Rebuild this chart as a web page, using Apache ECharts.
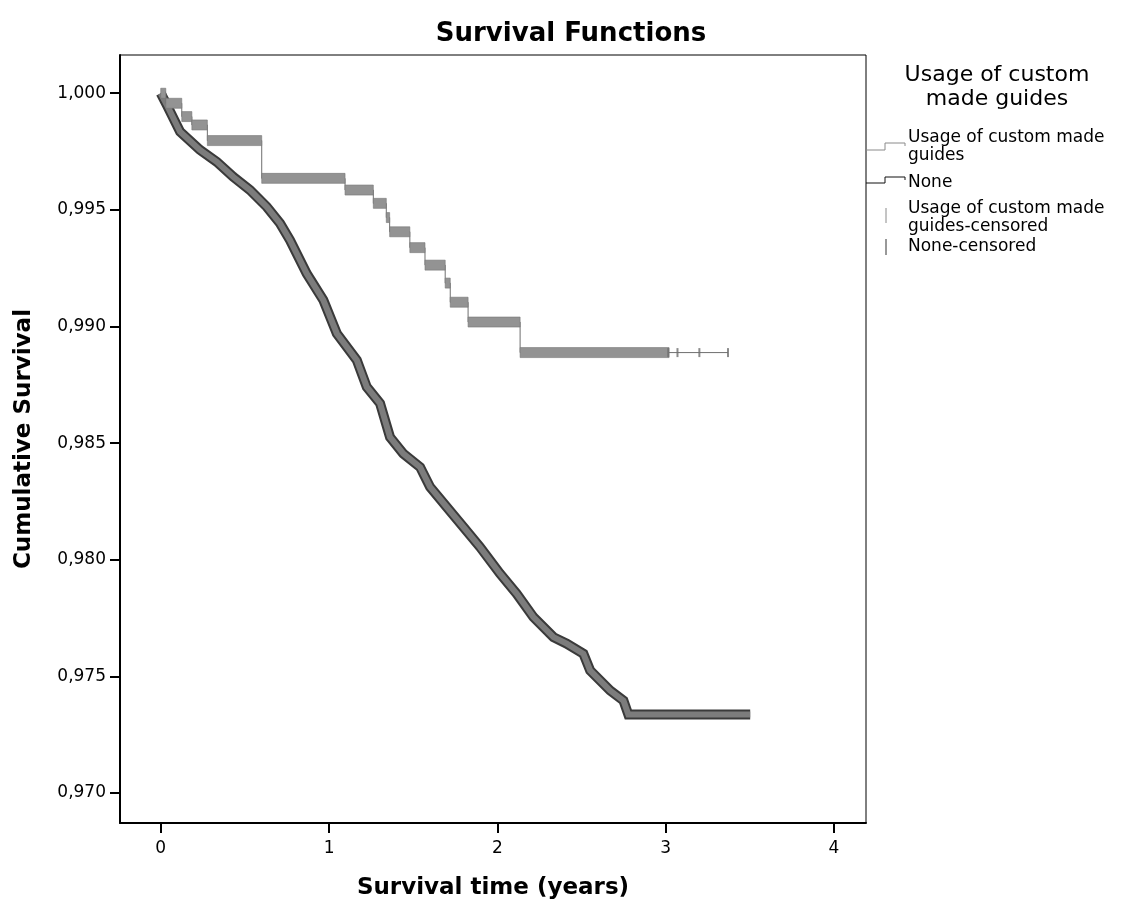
<!DOCTYPE html>
<html>
<head>
<meta charset="utf-8">
<title>Survival Functions</title>
<script src="https://cdn.jsdelivr.net/npm/echarts@6/dist/echarts.min.js"></script>
<style>
  html, body { margin: 0; padding: 0; background: #fff; }
  #chart { width: 1124px; height: 908px; }
</style>
</head>
<body>
<div id="chart"></div>
<script>
// Kaplan-Meier estimates, time in years
const noneTime = [0, 0.036, 0.115, 0.233, 0.333, 0.43, 0.53, 0.63, 0.709, 0.768, 0.867, 0.966, 1.046, 1.165, 1.224, 1.303, 1.362, 1.441, 1.541, 1.6, 1.699, 1.798, 1.897, 2.016, 2.115, 2.214, 2.333, 2.412, 2.511, 2.551, 2.67, 2.749, 2.778, 3.502];
const noneSurv = [1.0, 0.9995, 0.99835, 0.99757, 0.99706, 0.99642, 0.99585, 0.99513, 0.99442, 0.9937, 0.99227, 0.99113, 0.9897, 0.98855, 0.98741, 0.9867, 0.98526, 0.98455, 0.98397, 0.98312, 0.98226, 0.9814, 0.98054, 0.9794, 0.97854, 0.97754, 0.97668, 0.9764, 0.97597, 0.97525, 0.97439, 0.97396, 0.97336, 0.97336];

// Step function for the custom-guide group: event times and survival after each step
const guideTime = [0, 0.03, 0.125, 0.185, 0.277, 0.6, 1.095, 1.263, 1.34, 1.36, 1.48, 1.57, 1.69, 1.72, 1.826, 2.135];
const guideSurv = [1.0, 0.99957, 0.999, 0.99864, 0.99797, 0.99635, 0.99585, 0.99528, 0.99467, 0.99406, 0.99338, 0.99263, 0.99186, 0.99104, 0.99019, 0.98888];
const guideDenseCensorEnd = 3.02;          // dense censoring runs up to here
const guideCensorTimes = [3.015, 3.07, 3.2, 3.37];
const guideLastTime = 3.37;

const xTicks = [0, 1, 2, 3, 4];
const yTicks = [0.970, 0.975, 0.980, 0.985, 0.990, 0.995, 1.000];

const FONT = 'DejaVu Sans';

// segments of the guide step function: [start, end, value]
const guideSegments = guideTime.map((t, i) => [
  t,
  i + 1 < guideTime.length ? guideTime[i + 1] : guideDenseCensorEnd,
  guideSurv[i]
]);
const guideStepLine = guideTime.map((t, i) => [t, guideSurv[i]])
  .concat([[guideLastTime, guideSurv[guideSurv.length - 1]]]);
const guideCensorPts = guideCensorTimes.map(t => [t, guideSurv[guideSurv.length - 1]]);
const noneLine = noneTime.map((t, i) => [t, noneSurv[i]]);

const chart = echarts.init(document.getElementById('chart'), null, { renderer: 'canvas' });

const legendX = 866;
const option = {
  backgroundColor: '#fff',
  animation: false,
  title: {
    text: 'Survival Functions',
    left: 566, top: 16, textAlign: 'center',
    textStyle: { fontFamily: FONT, fontWeight: 'bold', fontSize: 26, color: '#000' }
  },
  grid: {
    left: 120, right: 1124 - 866, top: 55, bottom: 908 - 823,
    containLabel: false, outerBoundsMode: 'none',
    show: true, borderColor: '#000', borderWidth: 1, backgroundColor: 'transparent'
  },
  xAxis: {
    type: 'value', min: -0.242, max: 4.19,
    name: 'Survival time (years)', nameLocation: 'middle', nameGap: 54,
    nameTextStyle: { fontFamily: FONT, fontWeight: 'bold', fontSize: 23, color: '#000' },
    axisLine: { show: true, onZero: false, lineStyle: { color: '#000', width: 2 } },
    axisTick: { show: true, customValues: xTicks, length: 10, lineStyle: { color: '#000', width: 2 } },
    axisLabel: {
      customValues: xTicks, margin: 17,
      fontFamily: FONT, fontSize: 17, color: '#000'
    },
    splitLine: { show: false }
  },
  yAxis: {
    type: 'value', min: 0.96871, max: 1.00164,
    name: 'Cumulative Survival', nameLocation: 'middle', nameGap: 84, nameRotate: 90,
    nameTextStyle: { fontFamily: FONT, fontWeight: 'bold', fontSize: 23, color: '#000' },
    axisLine: { show: true, onZero: false, lineStyle: { color: '#000', width: 2 } },
    axisTick: { show: true, customValues: yTicks, length: 10, lineStyle: { color: '#000', width: 2 } },
    axisLabel: {
      customValues: yTicks, margin: 14,
      fontFamily: FONT, fontSize: 17, color: '#000',
      formatter: v => v.toFixed(3).replace('.', ',')
    },
    splitLine: { show: false }
  },
  series: [
    // None: dense censoring gives a thick band along the curve
    {
      name: 'None', type: 'line', data: noneLine, showSymbol: false,
      lineStyle: { color: '#3a3a3a', width: 10, cap: 'butt', join: 'miter' }, z: 3
    },
    {
      name: 'None inner', type: 'line', data: noneLine, showSymbol: false,
      lineStyle: { color: '#7c7c7c', width: 6, cap: 'butt', join: 'miter' }, z: 4
    },
    // custom made guides: thin step function
    {
      name: 'Usage of custom made guides', type: 'line', step: 'end', data: guideStepLine,
      showSymbol: false, lineStyle: { color: '#6e6e6e', width: 1 }, z: 5
    },
    // horizontal runs covered by censoring ticks
    {
      name: 'guide censoring band', type: 'custom', data: guideSegments, z: 6,
      renderItem: (params, api) => {
        const p0 = api.coord([api.value(0), api.value(2)]);
        const p1 = api.coord([api.value(1), api.value(2)]);
        return {
          type: 'rect',
          shape: { x: p0[0], y: p0[1] - 5, width: Math.max(1, p1[0] - p0[0]), height: 10 },
          style: { fill: '#939393', stroke: '#767676', lineWidth: 0.6 }
        };
      }
    },
    // isolated censored cases at the end of follow-up
    {
      name: 'guide censored', type: 'scatter', data: guideCensorPts, z: 7,
      symbol: 'rect', symbolSize: [2, 9], itemStyle: { color: '#6e6e6e' }
    }
  ],
  graphic: [
    { type: 'text', x: 997, y: 63, style: { text: 'Usage of custom\nmade guides', align: 'center', fontFamily: FONT, fontSize: 22, lineHeight: 24, fill: '#000' } },
    // step icons
    { type: 'polyline', shape: { points: [[legendX, 150], [885, 150], [885, 143], [905, 143], [905, 146]] }, style: { stroke: '#8a8a8a', lineWidth: 1, fill: null } },
    { type: 'polyline', shape: { points: [[legendX, 183], [885, 183], [885, 177], [905, 177], [905, 180]] }, style: { stroke: '#111', lineWidth: 1, fill: null } },
    { type: 'text', x: 908, y: 129, style: { text: 'Usage of custom made\nguides', fontFamily: FONT, fontSize: 17, lineHeight: 18, fill: '#000' } },
    { type: 'text', x: 908, y: 174, style: { text: 'None', fontFamily: FONT, fontSize: 17, fill: '#000' } },
    // censored icons
    { type: 'line', shape: { x1: 886, y1: 208, x2: 886, y2: 223 }, style: { stroke: '#8a8a8a', lineWidth: 1 } },
    { type: 'line', shape: { x1: 886, y1: 239, x2: 886, y2: 255 }, style: { stroke: '#333', lineWidth: 1 } },
    { type: 'text', x: 908, y: 200, style: { text: 'Usage of custom made\nguides-censored', fontFamily: FONT, fontSize: 17, lineHeight: 18, fill: '#000' } },
    { type: 'text', x: 908, y: 238, style: { text: 'None-censored', fontFamily: FONT, fontSize: 17, fill: '#000' } }
  ]
};
chart.setOption(option);
</script>
</body>
</html>
